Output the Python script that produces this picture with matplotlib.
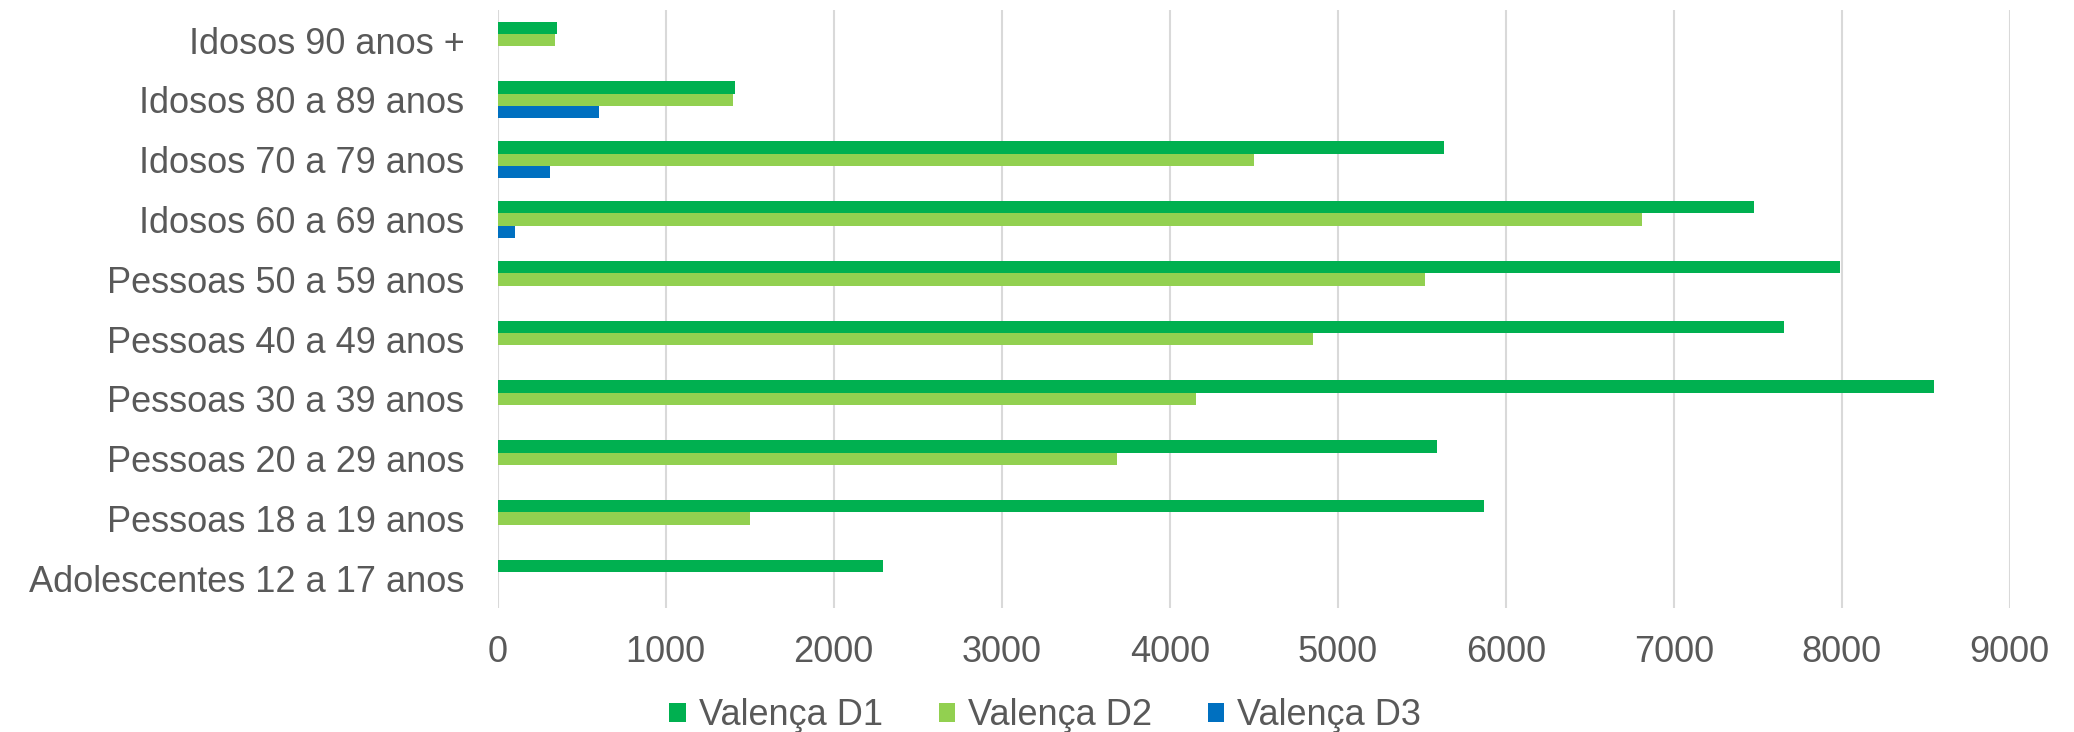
import matplotlib.pyplot as plt
import numpy as np

plt.rcParams["font.family"] = ["Liberation Sans", "DejaVu Sans"]

# faixas etárias, de baixo para cima
categorias = [
    "Adolescentes 12 a 17 anos",
    "Pessoas 18 a 19 anos",
    "Pessoas 20 a 29 anos",
    "Pessoas 30 a 39 anos",
    "Pessoas 40 a 49 anos",
    "Pessoas 50 a 59 anos",
    "Idosos 60 a 69 anos",
    "Idosos 70 a 79 anos",
    "Idosos 80 a 89 anos",
    "Idosos 90 anos +",
]
valenca_d1 = [2295, 5870, 5590, 8550, 7655, 7990, 7475, 5630, 1415, 350]
valenca_d2 = [0, 1500, 3685, 4155, 4850, 5520, 6810, 4500, 1400, 340]
valenca_d3 = [0, 0, 0, 0, 0, 0, 100, 310, 600, 0]
series = ["Valença D1", "Valença D2", "Valença D3"]
cores = ["#00B050", "#92D050", "#0070C0"]
xticks = list(range(0, 9001, 1000))

TXT = "#595959"
FS = 26

fig = plt.figure(figsize=(20.74, 7.32), dpi=100)
ax = fig.add_axes([0.240, 0.169, 0.729, 0.817])

y = np.arange(len(categorias))
h = 0.206
for k, (vals, nome, cor) in enumerate(zip([valenca_d1, valenca_d2, valenca_d3], series, cores)):
    ax.barh(y + (1 - k) * h, vals, height=h, color=cor, label=nome, zorder=3)

ax.set_xlim(0, 9000)
ax.set_ylim(-0.5, len(categorias) - 0.5)
ax.set_xticks(xticks)
ax.set_yticks(y)
ax.set_yticklabels(categorias)
ax.tick_params(axis="x", length=0, pad=19, labelsize=FS, labelcolor=TXT)
ax.tick_params(axis="y", length=0, pad=24, labelsize=FS, labelcolor=TXT)
ax.grid(axis="x", color="#d9d9d9", linewidth=1.5, zorder=0)
for s in ax.spines.values():
    s.set_visible(False)

fig.legend(loc="center", bbox_to_anchor=(0.504, 0.022), ncol=3, frameon=False,
           fontsize=FS, labelcolor=TXT, handlelength=0.45, handleheight=0.45,
           handletextpad=0.36, columnspacing=1.55, borderaxespad=0)

fig.savefig("out.png", dpi=100)
